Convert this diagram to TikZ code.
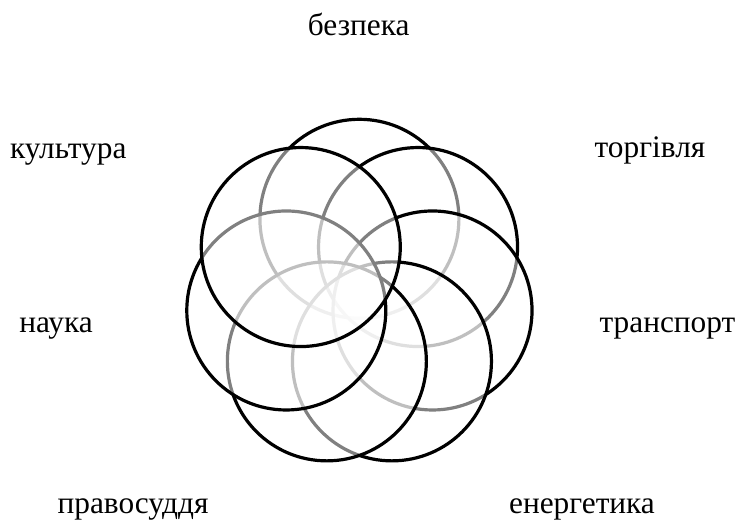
\documentclass[tikz,border=0pt]{standalone}
\usepackage{fontspec}
\setmainfont{Liberation Serif}
\usepackage{tikz}
\usetikzlibrary{positioning,calc}

\begin{document}
\begin{tikzpicture}[
  x=0.75pt, y=0.75pt,
  ring/.style={circle, draw=black, fill=white, fill opacity=0.5, line width=2.4pt, minimum size=149.25pt, inner sep=0pt},
  lbl/.style={anchor=base, text=black, font=\fontsize{23.5}{28}\selectfont}
]
  \useasboundingbox (0,0) rectangle (741,524);
  \coordinate (mid) at (359.4,230.2);
  \foreach \k in {0,...,6}
    \node[ring] (r\k) at ($(mid)+(90-\k*360/7:75)$) {};
  \node[lbl] (bezpeka) at (358.7,488.3) {безпека};
  \node[lbl] (torgivlia) at (650,366) {торгівля};
  \node[lbl] (transport) at (667.5,191) {транспорт};
  \node[lbl] (energetyka) at (582,11) {енергетика};
  \node[lbl] (pravosuddia) at (133,11) {правосуддя};
  \node[lbl] (nauka) at (56,191) {наука};
  \node[lbl] (kultura) at (68.3,365.7) {культура};
\end{tikzpicture}
\end{document}
